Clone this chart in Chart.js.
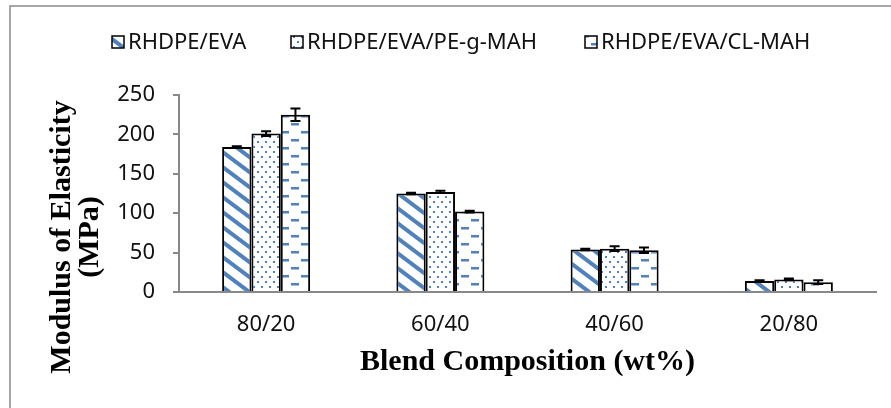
<!DOCTYPE html>
<html>
<head>
<meta charset="utf-8">
<script src="https://cdn.jsdelivr.net/npm/chart.js@4.4.0/dist/chart.umd.min.js"></script>
<style>
  html, body { margin: 0; padding: 0; background: #fff; }
</style>
</head>
<body>
<canvas id="myChart" width="891" height="408"></canvas>
<script>
// Data
const categories = ['80/20', '60/40', '40/60', '20/80'];
const seriesNames = ['RHDPE/EVA', 'RHDPE/EVA/PE-g-MAH', 'RHDPE/EVA/CL-MAH'];
const evaValues = [184, 125, 54, 14];
const evaErrors = [1, 1, 1, 1];
const peValues = [201, 127, 55, 16];
const peErrors = [3, 1.5, 3, 1];
const clValues = [225, 102, 53, 12.5];
const clErrors = [8, 1, 3.5, 2.5];
const yTicks = [0, 50, 100, 150, 200, 250];

const blue = '#4f81bd';
const axisGrey = '#898989';

const ctx = document.getElementById('myChart');
const c2d = ctx.getContext('2d');

// Patterns
function makePattern(w, h, draw) {
  const tile = document.createElement('canvas');
  tile.width = w;
  tile.height = h;
  const g = tile.getContext('2d');
  g.fillStyle = '#fff';
  g.fillRect(0, 0, w, h);
  draw(g);
  return c2d.createPattern(tile, 'repeat');
}

const diagPattern = makePattern(20, 15, g => {
  g.strokeStyle = blue;
  g.lineWidth = 4;
  for (let k = -1; k <= 1; k++) {
    g.beginPath();
    g.moveTo(-10, -7.5 + k * 15);
    g.lineTo(30, 22.5 + k * 15);
    g.stroke();
  }
});

const dotPattern = makePattern(8, 10, g => {
  g.fillStyle = blue;
  g.fillRect(1, 1, 2, 2);
  g.fillRect(5, 6, 2, 2);
});

const dashPattern = makePattern(20, 16, g => {
  g.fillStyle = blue;
  g.fillRect(1, 3, 8, 2.5);
  g.fillRect(11, 11, 8, 2.5);
});

const patterns = [diagPattern, dotPattern, dashPattern];

// legend box positions / frame / titles
const legendBoxX = [112, 291, 585];

const decor = {
  id: 'decor',
  beforeDraw(chart) {
    const g = chart.ctx;
    g.save();
    g.fillStyle = '#fff';
    g.fillRect(0, 0, chart.width, chart.height);
    g.strokeStyle = axisGrey;
    g.lineWidth = 1.5;
    g.beginPath();
    g.moveTo(10, 408);
    g.lineTo(10, 6);
    g.lineTo(891, 6);
    g.stroke();
    g.restore();
  },
  afterDatasetsDraw(chart) {
    const g = chart.ctx;
    const y = chart.scales.y;
    g.save();
    g.strokeStyle = '#000';
    g.lineWidth = 2;
    chart.data.datasets.forEach((ds, i) => {
      chart.getDatasetMeta(i).data.forEach((bar, j) => {
        const v = ds.data[j];
        const e = ds.errors[j];
        const top = y.getPixelForValue(v + e);
        const bot = y.getPixelForValue(v - e);
        g.beginPath();
        g.moveTo(bar.x, top);
        g.lineTo(bar.x, bot);
        g.moveTo(bar.x - 5, top);
        g.lineTo(bar.x + 5, top);
        g.moveTo(bar.x - 5, bot);
        g.lineTo(bar.x + 5, bot);
        g.stroke();
      });
    });
    g.restore();
  },
  afterDraw(chart) {
    const g = chart.ctx;
    g.save();
    // legend
    g.font = '22px "Noto Sans"';
    g.textBaseline = 'middle';
    g.textAlign = 'left';
    chart.data.datasets.forEach((ds, i) => {
      const x = legendBoxX[i];
      g.fillStyle = ds.backgroundColor;
      g.fillRect(x, 36, 12, 12);
      g.strokeStyle = '#000';
      g.lineWidth = 1.5;
      g.strokeRect(x, 36, 12, 12);
      g.fillStyle = '#111';
      g.fillText(ds.label, x + 16, 43);
    });
    // y axis title
    g.translate(70, 237);
    g.rotate(-Math.PI / 2);
    g.font = 'bold 30px "Liberation Serif"';
    g.textAlign = 'center';
    g.textBaseline = 'alphabetic';
    g.fillStyle = '#000';
    g.fillText('Modulus of Elasticity', 0, 0);
    g.fillText('(MPa)', 0, 28);
    g.restore();
  }
};

new Chart(ctx, {
  type: 'bar',
  data: {
    labels: categories,
    datasets: [{
      label: seriesNames[0],
      data: evaValues,
      errors: evaErrors,
      backgroundColor: patterns[0],
      borderColor: '#000',
      borderWidth: 2
    }, {
      label: seriesNames[1],
      data: peValues,
      errors: peErrors,
      backgroundColor: patterns[1],
      borderColor: '#000',
      borderWidth: 2
    }, {
      label: seriesNames[2],
      data: clValues,
      errors: clErrors,
      backgroundColor: patterns[2],
      borderColor: '#000',
      borderWidth: 2
    }]
  },
  options: {
    responsive: false,
    animation: false,
    devicePixelRatio: 1,
    layout: {
      padding: { top: 95, right: 15, left: 0, bottom: 0 }
    },
    datasets: {
      bar: { categoryPercentage: 0.505, barPercentage: 1 }
    },
    scales: {
      x: {
        grid: { display: false, drawTicks: false },
        border: { color: axisGrey, width: 2 },
        ticks: {
          color: '#111',
          font: { family: 'Noto Sans', size: 22 },
          padding: 20
        },
        title: {
          display: true,
          text: 'Blend Composition (wt%)',
          color: '#000',
          font: { family: 'Liberation Serif', size: 30, weight: 'bold' },
          padding: { top: 0, bottom: 28 }
        },
        afterFit: s => { s.height = 116; }
      },
      y: {
        min: 0,
        max: 250,
        afterBuildTicks: s => { s.ticks = yTicks.map(v => ({ value: v })); },
        grid: {
          drawOnChartArea: false,
          drawTicks: true,
          tickLength: 6,
          color: axisGrey,
          lineWidth: 2
        },
        border: { color: axisGrey, width: 2 },
        ticks: {
          color: '#111',
          font: { family: 'Noto Sans', size: 22 },
          padding: 18
        },
        afterFit: s => { s.width = 179; }
      }
    },
    plugins: {
      legend: { display: false },
      tooltip: { enabled: false }
    }
  },
  plugins: [decor]
});
</script>
</body>
</html>
